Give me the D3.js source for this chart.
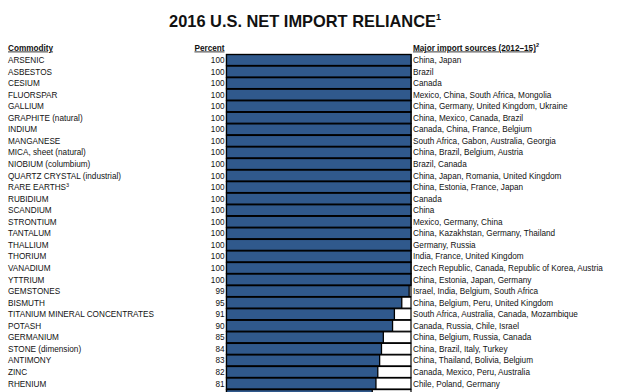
<!DOCTYPE html>
<html><head><meta charset="utf-8">
<script src="https://cdn.jsdelivr.net/npm/d3@7"></script>
<style>
body{margin:0;background:#fff;}
svg{display:block;font-family:"Liberation Sans",Arial,sans-serif;}
</style></head>
<body><svg id="c" width="619" height="392"></svg>
<script>
const commodities = ["ARSENIC","ASBESTOS","CESIUM","FLUORSPAR","GALLIUM","GRAPHITE (natural)","INDIUM","MANGANESE","MICA, sheet (natural)","NIOBIUM (columbium)","QUARTZ CRYSTAL (industrial)","RARE EARTHS","RUBIDIUM","SCANDIUM","STRONTIUM","TANTALUM","THALLIUM","THORIUM","VANADIUM","YTTRIUM","GEMSTONES","BISMUTH","TITANIUM MINERAL CONCENTRATES","POTASH","GERMANIUM","STONE (dimension)","ANTIMONY","ZINC","RHENIUM","BARITE"];
const percents = [100,100,100,100,100,100,100,100,100,100,100,100,100,100,100,100,100,100,100,100,99,95,91,90,85,84,83,82,81,79];
const sources = ["China, Japan","Brazil","Canada","Mexico, China, South Africa, Mongolia","China, Germany, United Kingdom, Ukraine","China, Mexico, Canada, Brazil","Canada, China, France, Belgium","South Africa, Gabon, Australia, Georgia","China, Brazil, Belgium, Austria","Brazil, Canada","China, Japan, Romania, United Kingdom","China, Estonia, France, Japan","Canada","China","Mexico, Germany, China","China, Kazakhstan, Germany, Thailand","Germany, Russia","India, France, United Kingdom","Czech Republic, Canada, Republic of Korea, Austria","China, Estonia, Japan, Germany","Israel, India, Belgium, South Africa","China, Belgium, Peru, United Kingdom","South Africa, Australia, Canada, Mozambique","Canada, Russia, Chile, Israel","China, Belgium, Russia, Canada","China, Brazil, Italy, Turkey","China, Thailand, Bolivia, Belgium","Canada, Mexico, Peru, Australia","Chile, Poland, Germany","China, India, Morocco, Mexico"];
const superscripts = {"RARE EARTHS":"3"};
const title = "2016 U.S. NET IMPORT RELIANCE";
const headers = ["Commodity","Percent","Major import sources (2012–15)"];

const W = 619, H = 392;
const data = commodities.map((c,i)=>({c, p:percents[i], s:sources[i]}));
const svg = d3.select("#c");
const ink = "#111";
const pitch = 11.55;
const x = d3.scaleLinear().domain([0,100]).range([226.5,411]);
const y = d3.scaleBand().domain(commodities).range([54.3, 54.3 + pitch*commodities.length]).paddingInner(0.05).paddingOuter(0.02);

// title
const t = svg.append("text").attr("x",305).attr("y",27).attr("text-anchor","middle")
  .attr("font-size",16.4).attr("font-weight","bold").attr("fill",ink).text(title);
t.append("tspan").attr("font-size",9).attr("dy",-7).text("1");

// headers
svg.append("text").attr("x",8).attr("y",50.5).attr("font-size",8.2).attr("font-weight","bold")
  .attr("text-decoration","underline").attr("fill",ink).text(headers[0]);
svg.append("text").attr("x",224.5).attr("y",50.5).attr("text-anchor","end").attr("font-size",8.2).attr("font-weight","bold")
  .attr("text-decoration","underline").attr("fill",ink).text(headers[1]);
const h3 = svg.append("text").attr("x",413).attr("y",50.5).attr("font-size",8.2).attr("font-weight","bold")
  .attr("fill",ink);
h3.append("tspan").attr("text-decoration","underline").text(headers[2]);
h3.append("tspan").attr("font-size",5.5).attr("dy",-3.5).text("2");

const rows = svg.append("g").selectAll("g").data(data).join("g")
  .attr("transform", d=>`translate(0,${y(d.c)})`);

rows.append("rect").attr("x",x(0)).attr("y",0).attr("width",x(100)-x(0)).attr("height",y.bandwidth())
  .attr("fill","#fff").attr("stroke","#000").attr("stroke-width",1.2);
rows.append("rect").attr("x",x(0)).attr("y",0).attr("width",d=>x(d.p)-x(0)).attr("height",y.bandwidth())
  .attr("fill","#30598c").attr("stroke","#000").attr("stroke-width",1.3);

// labels only for rows that lie fully inside the visible page
const mid = y.bandwidth()/2 + 3;
const lab = rows.filter(d => y(d.c) + y.bandwidth() <= H);
const ct = lab.append("text").attr("x",8).attr("y",mid).attr("font-size",8.2).attr("fill",ink).text(d=>d.c);
ct.filter(d=>superscripts[d.c]).append("tspan").attr("font-size",5.5).attr("dy",-3).text(d=>superscripts[d.c]);
lab.append("text").attr("x",224.5).attr("y",mid).attr("text-anchor","end").attr("font-size",8.2).attr("fill",ink).text(d=>d.p);
lab.append("text").attr("x",413).attr("y",mid).attr("font-size",8.2).attr("fill",ink).text(d=>d.s);
</script></body></html>
